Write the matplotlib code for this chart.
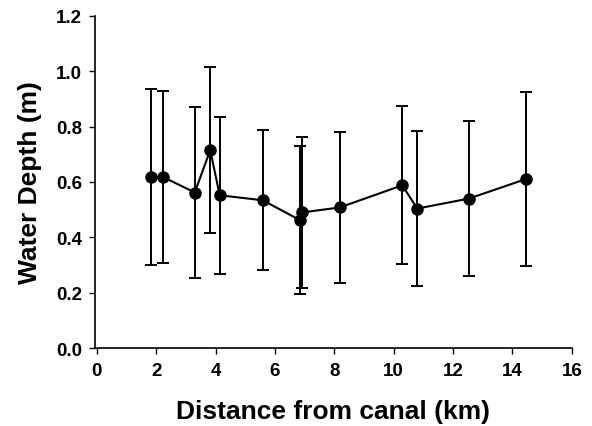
import numpy as np
from matplotlib import pyplot as plt

# data
distance = [1.84, 2.23, 3.30, 3.82, 4.14, 5.59, 6.83, 6.91, 8.18, 10.29, 10.79, 12.53, 14.44]
depth = [0.618, 0.618, 0.562, 0.715, 0.552, 0.534, 0.463, 0.490, 0.508, 0.588, 0.504, 0.540, 0.610]
depth_sd = [0.318, 0.310, 0.310, 0.300, 0.284, 0.252, 0.268, 0.273, 0.271, 0.285, 0.280, 0.281, 0.313]

xticks = np.arange(0, 17, 2)
yticks = np.arange(0, 1.21, 0.2)

plt.rcParams['font.family'] = ['Liberation Sans', 'DejaVu Sans']
plt.rcParams['font.weight'] = 'bold'
plt.rcParams['xtick.direction'] = 'out'
plt.rcParams['ytick.direction'] = 'out'

fig = plt.figure(figsize=(5.92, 4.27), dpi=100)
ax = fig.add_axes([0.160, 0.182, 0.806, 0.779])

ax.errorbar(distance, depth, yerr=depth_sd, fmt='-o', color='black',
            lw=1.5, elinewidth=1.4, capsize=4.5, capthick=1.4,
            markersize=8)

ax.set_xlim(-0.07, 16)
ax.set_ylim(0, 1.2)
ax.set_xticks(xticks)
ax.set_yticks(yticks)
ax.set_xticklabels([str(int(v)) for v in xticks])
ax.set_yticklabels(['%.1f' % v for v in yticks])
ax.tick_params(labelsize=13.5, length=4, width=1)
ax.tick_params(axis='x', pad=6)
ax.tick_params(axis='y', pad=5)

for s in ['top', 'right']:
    ax.spines[s].set_visible(False)
for s in ['left', 'bottom']:
    ax.spines[s].set_linewidth(1.2)

ax.set_xlabel('Distance from canal (km)', fontsize=19, fontweight='bold', labelpad=14)
ax.set_ylabel('Water Depth (m)', fontsize=19, fontweight='bold', labelpad=10)

fig.savefig('out.png', dpi=100)
plt.close()
